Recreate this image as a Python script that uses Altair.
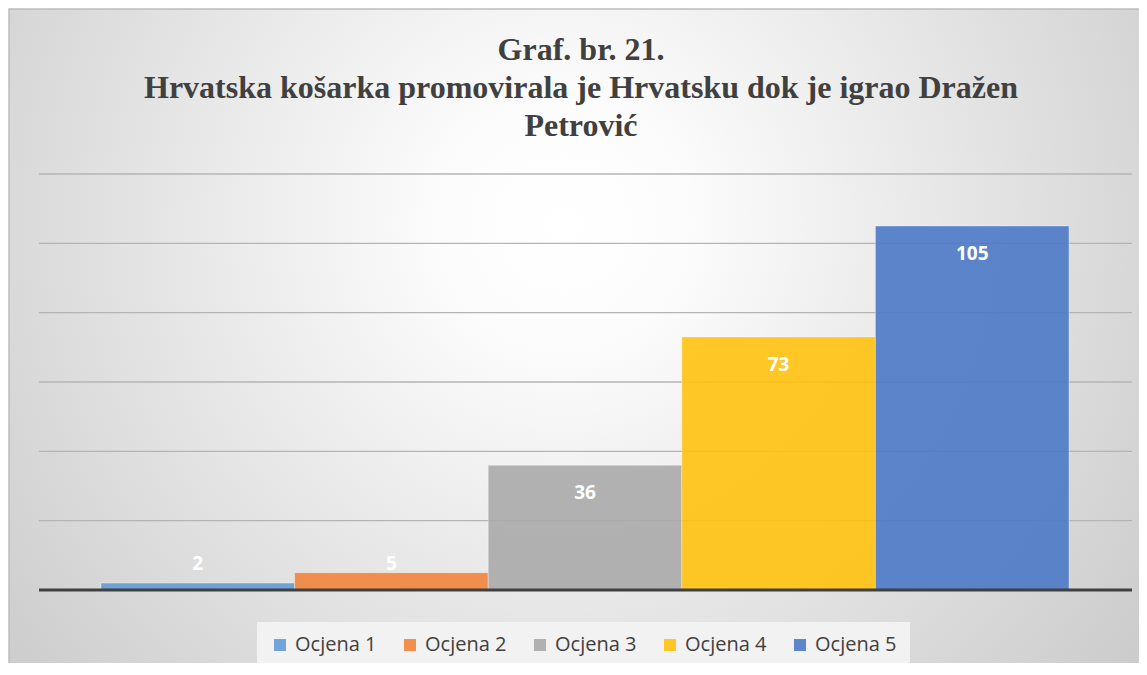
import altair as alt
import pandas as pd

categories = ["Ocjena 1", "Ocjena 2", "Ocjena 3", "Ocjena 4", "Ocjena 5"]
values = [2, 5, 36, 73, 105]
colors = ["#629CD8", "#F1843C", "#AAAAAA", "#FFC20F", "#4C79C6"]
grid_values = [20, 40, 60, 80, 100, 120]
title_lines = [
    "Graf. br. 21.",
    "Hrvatska košarka promovirala je Hrvatsku dok je igrao Dražen",
    "Petrović",
]

df = pd.DataFrame({"cat": categories, "value": values})
grid_df = pd.DataFrame({"g": grid_values})
base_df = pd.DataFrame({"b": [0]})
title_df = pd.DataFrame({"t": [0]})

W, H = 1131, 655
yscale = alt.Scale(domain=[0, 120], range=[581, 165], nice=False)
xscale = alt.Scale(domain=categories, range=[92, 1060], paddingInner=0, paddingOuter=0)

gradient = alt.RadialGradient(
    gradient="radial",
    x1=0.49, y1=0.4, r1=0,
    x2=0.49, y2=0.4, r2=0.72,
    stops=[
        alt.GradientStop(offset=0, color="#ffffff"),
        alt.GradientStop(offset=0.15, color="#fcfcfc"),
        alt.GradientStop(offset=1, color="#c4c4c4"),
    ],
)

background = alt.Chart(base_df).mark_rect(
    fill=gradient, stroke="#bdbdbd", strokeWidth=1.5
).encode(
    x=alt.value(0), x2=alt.value(W), y=alt.value(0), y2=alt.value(H)
)

grid = alt.Chart(grid_df).mark_rule(color="#b4b4b4", strokeWidth=1.4).encode(
    y=alt.Y("g:Q", scale=yscale, axis=None),
    x=alt.value(30),
    x2=alt.value(1123),
)

bars = alt.Chart(df).mark_bar(
    fillOpacity=0.9, stroke="white", strokeOpacity=0.35, strokeWidth=1
).encode(
    x=alt.X("cat:N", scale=xscale, axis=None, sort=categories),
    y=alt.Y("value:Q", scale=yscale, axis=None),
    color=alt.Color(
        "cat:N",
        scale=alt.Scale(domain=categories, range=colors),
        legend=alt.Legend(
            orient="none",
            legendX=248,
            legendY=613,
            direction="horizontal",
            title=None,
            symbolType="square",
            symbolSize=144,
            symbolStrokeWidth=0,
            symbolOpacity=0.9,
            labelFont="Open Sans",
            labelFontSize=20,
            labelColor="#404040",
            labelOffset=5,
            columnPadding=23,
            fillColor="#f2f2f2",
            padding=13,
        ),
    ),
)

baseline = alt.Chart(base_df).mark_rule(color="#404040", strokeWidth=3).encode(
    y=alt.Y("b:Q", scale=yscale, axis=None),
    x=alt.value(30),
    x2=alt.value(1123),
)

labels = alt.Chart(df).transform_calculate(
    pos="max(datum.value, 15.6)"
).mark_text(
    font="Open Sans", fontWeight="bold", fontSize=19, color="white", dy=28, baseline="middle"
).encode(
    x=alt.X("cat:N", scale=xscale, axis=None, sort=categories),
    y=alt.Y("pos:Q", scale=yscale, axis=None),
    text="value:Q",
)

title = alt.Chart(title_df).mark_text(
    text=title_lines,
    lineHeight=38,
    font="Liberation Serif",
    fontWeight="bold",
    fontSize=32,
    color="#404040",
    align="center",
    baseline="alphabetic",
).encode(x=alt.value(572), y=alt.value(51))

chart = alt.layer(background, grid, bars, baseline, labels, title).properties(
    width=W,
    height=H,
    autosize=alt.AutoSizeParams(type="fit", contains="padding"),
    padding=0,
).configure_view(stroke=None)

chart.save("out.html", embed_options={"renderer": "svg", "actions": False})
